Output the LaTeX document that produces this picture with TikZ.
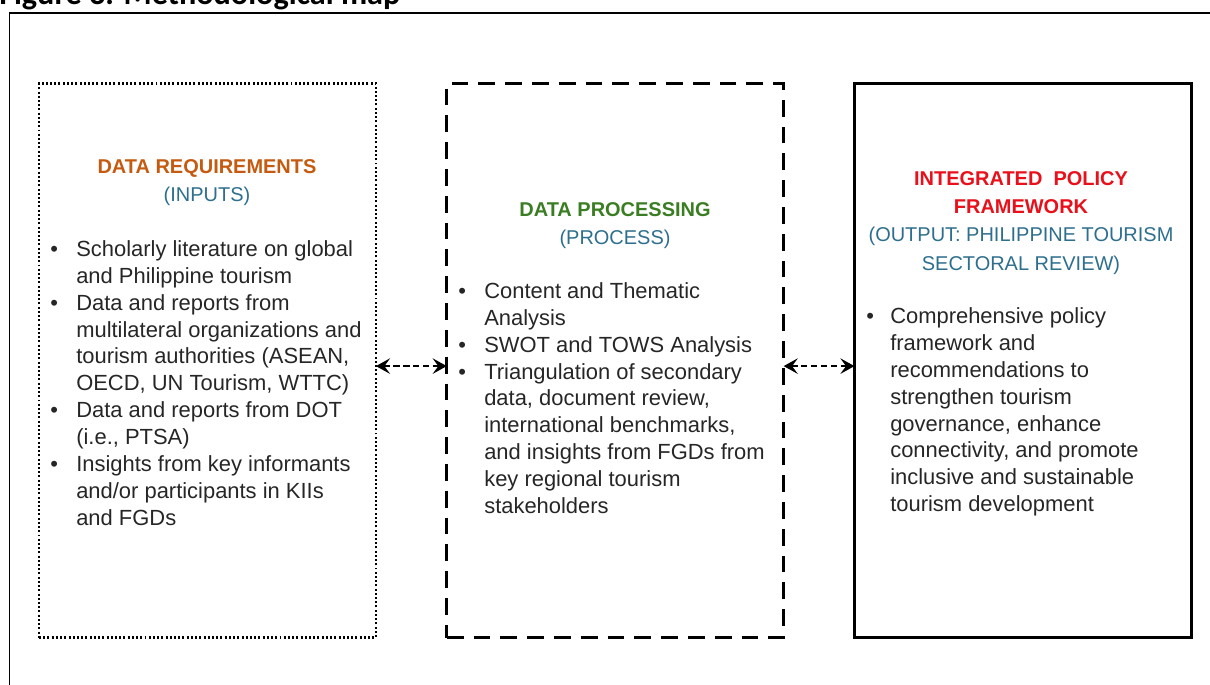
\documentclass[tikz,border=0pt]{standalone}
\usepackage{fontspec}
\setmainfont{Liberation Sans}
\newfontfamily\captionfont{Carlito}
\usepackage{tikz}
\usetikzlibrary{arrows.meta, positioning}
\usepackage{xcolor}
\definecolor{inputorange}{HTML}{C55A11}
\definecolor{processgreen}{HTML}{3A7D22}
\definecolor{outputred}{HTML}{E8101A}
\definecolor{labelteal}{HTML}{2E6F8E}
\definecolor{bodygrey}{HTML}{262626}

\tikzset{
  stagebox/.style={rectangle, minimum width=8.42cm, minimum height=13.85cm, inner sep=0pt, outer sep=0pt},
  stagehead/.style={align=center, inner sep=0pt, font=\fontsize{14.2}{20}\selectfont},
  stagelist/.style={anchor=base west, inner sep=0pt, text=bodygrey,
                    font=\fontsize{15.6}{19.2}\selectfont},
  linkarrow/.style={{Stealth[length=10pt,width=11pt,inset=4pt]}-{Stealth[length=10pt,width=11pt,inset=4pt]},
                    line width=1.7pt, dash pattern=on 4.5pt off 2.5pt}
}

\begin{document}
\begin{tikzpicture}[x=0.025cm, y=-0.025cm]
\useasboundingbox (0,0) rectangle (1210,684);
\clip (0,0) rectangle (1210,684);

% caption and frame, both cut by the page edge
\node[anchor=base west, inner sep=0pt, font=\captionfont\bfseries\fontsize{22.9}{26}\selectfont] (figcaption) at (-1,5) {Figure 3. Methodological map};
\draw[line width=1.4pt] (9.5,13) rectangle (1240,700);

% the three stages
\node[stagebox, draw, line width=1.7pt, dash pattern=on 1.4pt off 1.6pt] (inputs) at (207.5,360.5) {};
\node[stagebox, draw, line width=2pt, dash pattern=on 0.42cm off 0.25cm, right=1.77cm of inputs] (process) {};
\node[stagebox, draw, line width=2pt, right=1.77cm of process] (output) {};

\node[stagehead] (inputshead) at (207,183) {\color{inputorange}\bfseries DATA REQUIREMENTS\\ \color{labelteal}(INPUTS)};
\node[stagehead] (processhead) at (615,226) {\color{processgreen}\bfseries DATA PROCESSING\\ \color{labelteal}(PROCESS)};
\node[stagehead] (outputhead) at (1021,223) {\color{outputred}\bfseries INTEGRATED\ \ POLICY\\ \color{outputred}\bfseries FRAMEWORK\\
  \color{labelteal}(OUTPUT: PHILIPPINE TOURISM\\ \color{labelteal}SECTORAL REVIEW)};

\node[stagelist] (inputslist) at (50,256) {\begin{tabular}[t]{@{}p{0.65cm}@{}l@{}}
\textbullet & Scholarly literature on global\\
 & and Philippine tourism\\
\textbullet & Data and reports from\\
 & multilateral organizations and\\
 & tourism authorities (ASEAN,\\
 & OECD, UN Tourism, WTTC)\\
\textbullet & Data and reports from DOT\\
 & (i.e., PTSA)\\
\textbullet & Insights from key informants\\
 & and/or participants in KIIs\\
 & and FGDs
\end{tabular}};

\node[stagelist] (processlist) at (458,298) {\begin{tabular}[t]{@{}p{0.65cm}@{}l@{}}
\textbullet & Content and Thematic\\
 & Analysis\\
\textbullet & SWOT and TOWS Analysis\\
\textbullet & Triangulation of secondary\\
 & data, document review,\\
 & international benchmarks,\\
 & and insights from FGDs from\\
 & key regional tourism\\
 & stakeholders
\end{tabular}};

\node[stagelist] (outputlist) at (866,323) {\begin{tabular}[t]{@{}p{0.6cm}@{}l@{}}
\textbullet & Comprehensive policy\\
 & framework and\\
 & recommendations to\\
 & strengthen tourism\\
 & governance, enhance\\
 & connectivity, and promote\\
 & inclusive and sustainable\\
 & tourism development
\end{tabular}};

% two-way links
\draw[linkarrow] ([yshift=-0.14cm]inputs.east) -- ([yshift=-0.14cm]process.west);
\draw[linkarrow] ([yshift=-0.14cm]process.east) -- ([yshift=-0.14cm]output.west);
\end{tikzpicture}
\end{document}
